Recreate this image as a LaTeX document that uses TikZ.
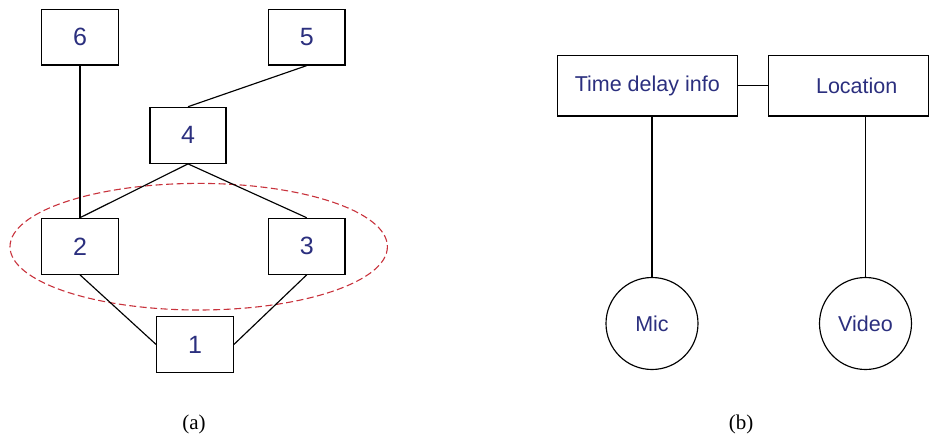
\documentclass[tikz,border=0pt]{standalone}
\usepackage{fontspec}
\setmainfont{Liberation Sans}
\newfontfamily\capfont{Liberation Serif}
\definecolor{txtblue}{HTML}{2B2F7E}
\definecolor{ellred}{HTML}{C8323C}
\begin{document}
\begin{tikzpicture}[x=1pt,y=-1pt,
  numbox/.style={draw=black,line width=1.15pt,minimum width=76.6pt,minimum height=55.7pt,inner sep=0pt,text=txtblue,font=\fontsize{25}{27}\selectfont},
  infobox/.style={draw=black,line width=1.15pt,minimum height=60.3pt,inner sep=0pt,text=txtblue,font=\fontsize{21.5}{24}\selectfont},
  srccirc/.style={draw=black,line width=1.15pt,circle,minimum size=92pt,inner sep=0pt,text=txtblue,font=\fontsize{21.5}{24}\selectfont},
  conn/.style={draw=black,line width=1.15pt},
  caplabel/.style={font=\capfont\fontsize{21}{24}\selectfont,text=black}]
\useasboundingbox (0,0) rectangle (929,436);
% (a)
\node[numbox] (n6) at (80,37.2) {6};
\node[numbox] (n5) at (306.7,37.2) {5};
\node[numbox,minimum width=76pt,minimum height=56pt] (n4) at (188,135.3) {4};
\node[numbox,minimum height=56pt] (n2) at (80,246.3) {2};
\node[numbox,minimum height=56pt] (n3) at (306.7,246.3) {3};
\node[numbox] (n1) at (195,344.5) {1};
\draw[ellred,line width=1.1pt,dash pattern=on 7pt off 3.5pt] (198.7,246.7) ellipse [x radius=188.7, y radius=63.3];
\draw[conn] (n6.south) -- (n2.north);
\draw[conn] (n5.south) -- (n4.north);
\draw[conn] (n4.south) -- (n2.north);
\draw[conn] (n4.south) -- (n3.north);
\draw[conn] (n2.south) -- (n1.west);
\draw[conn] (n3.south) -- (n1.east);
\node[caplabel] (la) at (194,424) {(a)};
% (b)
\node[infobox,minimum width=180pt] (tdi) at (647.3,85.8) {Time delay info};
\node[infobox,minimum width=160pt] (loc) at (848.2,85.8) {\hspace*{17pt}Location};
\node[srccirc] (mic) at (652,323.5) {Mic};
\node[srccirc] (vid) at (865.5,323.5) {Video};
\draw[conn] (tdi.east) -- (loc.west);
\draw[conn] (mic.north |- tdi.south) -- (mic.north);
\draw[conn] (vid.north |- loc.south) -- (vid.north);
\node[caplabel] (lb) at (741,424) {(b)};
\end{tikzpicture}
\end{document}
